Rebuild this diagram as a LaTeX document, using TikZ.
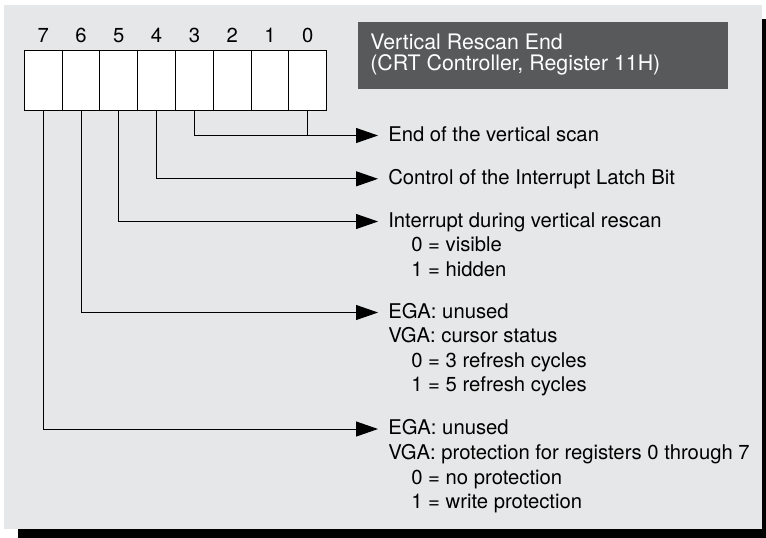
\documentclass[tikz,border=0pt]{standalone}
\usepackage{fontspec}
\setmainfont{TeX Gyre Heros}
\usetikzlibrary{arrows.meta}
\definecolor{panelgray}{HTML}{E6E7E8}
\definecolor{titlegray}{HTML}{58595B}
\tikzset{
  bitcell/.style={draw=black, fill=white, line width=0.75pt, inner sep=0pt, minimum width=28.35pt, minimum height=44.78pt},
  bitnum/.style={anchor=base, inner sep=0pt, font=\fontsize{15.2}{18}\selectfont},
  titlebox/.style={fill=titlegray, inner sep=0pt, minimum width=277.5pt, minimum height=50.25pt, anchor=north west},
  titletext/.style={anchor=base west, inner sep=0pt, text=white, font=\fontsize{16}{19}\selectfont},
  desc/.style={anchor=west, inner xsep=7.5pt, inner ysep=0pt, text height=0.85em, text depth=0pt, font=\fontsize{15.2}{18}\selectfont},
  subdesc/.style={desc, inner xsep=0pt},
  wire/.style={line width=0.75pt, draw=black},
  conn/.style={wire, -{Triangle[length=16.5pt, width=11.25pt]}},
}
\begin{document}
\begin{tikzpicture}[x=0.75pt, y=-0.75pt]
\useasboundingbox (0,0) rectangle (766,537);
% panel and its shadow
\fill[black] (18,19) rectangle (776,543);
\fill[panelgray] (4,5) rectangle (762,528.5);
% title
\node[titlebox] (titlebox) at (358,22) {};
\node[titletext] (title1) at (370,49) {Vertical Rescan End};
\node[titletext] (title2) at (370,70.5) {(CRT Controller, Register 11H)};
% register bits
\node[bitcell] (b7) at (43.2,80.15) {};
\node[bitcell] (b6) at (81.0,80.15) {};
\node[bitcell] (b5) at (118.8,80.15) {};
\node[bitcell] (b4) at (156.6,80.15) {};
\node[bitcell] (b3) at (194.4,80.15) {};
\node[bitcell] (b2) at (232.2,80.15) {};
\node[bitcell] (b1) at (270.0,80.15) {};
\node[bitcell] (b0) at (307.8,80.15) {};
\node[bitnum] (n7) at (43.2,42.7) {7};
\node[bitnum] (n6) at (81.0,42.7) {6};
\node[bitnum] (n5) at (118.8,42.7) {5};
\node[bitnum] (n4) at (156.6,42.7) {4};
\node[bitnum] (n3) at (194.4,42.7) {3};
\node[bitnum] (n2) at (232.2,42.7) {2};
\node[bitnum] (n1) at (270.0,42.7) {1};
\node[bitnum] (n0) at (307.8,42.7) {0};
% descriptions
\node[desc] (scanend) at (378,135.5) {End of the vertical scan};
\node[desc] (latch) at (378,178.8) {Control of the Interrupt Latch Bit};
\node[desc] (intr) at (378,221.5) {Interrupt during vertical rescan};
\node[subdesc] (intr0) at (411,246) {0 = visible};
\node[subdesc] (intr1) at (411,270.5) {1 = hidden};
\node[desc] (ega6) at (378,312.5) {EGA: unused};
\node[subdesc] (vga6) at (388,337) {VGA: cursor status};
\node[subdesc] (vga6a) at (411,361.5) {0 = 3 refresh cycles};
\node[subdesc] (vga6b) at (411,386) {1 = 5 refresh cycles};
\node[desc] (ega7) at (378,429) {EGA: unused};
\node[subdesc] (vga7) at (388,454) {VGA: protection for registers 0 through 7};
\node[subdesc] (vga7a) at (411,478.5) {0 = no protection};
\node[subdesc] (vga7b) at (411,503) {1 = write protection};
% connectors
\draw[conn] (b3.south) |- (scanend.west);
\draw[wire] (b0.south) -- (b0.south |- scanend.west);
\draw[conn] (b4.south) |- (latch.west);
\draw[conn] (b5.south) |- (intr.west);
\draw[conn] (b6.south) |- (ega6.west);
\draw[conn] (b7.south) |- (ega7.west);
\end{tikzpicture}
\end{document}
